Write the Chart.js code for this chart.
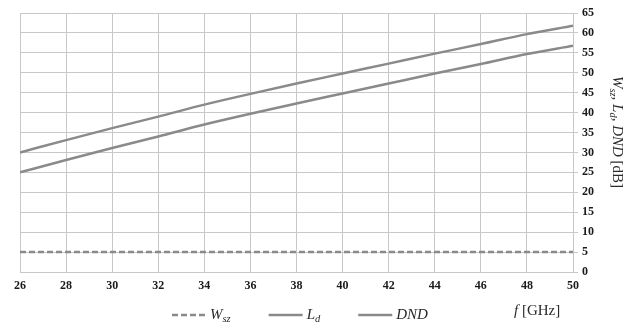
<!DOCTYPE html>
<html>
<head>
<meta charset="utf-8">
<script src="https://cdn.jsdelivr.net/npm/chart.js@4/dist/chart.umd.min.js"></script>
<style>
  html, body { margin: 0; padding: 0; background: #fff; }
  #wrap { width: 635px; height: 327px; }
</style>
</head>
<body>
<div id="wrap"><canvas id="lossChart"></canvas></div>
<script>
// frequency [GHz]
const freqs = [26, 28, 30, 32, 34, 36, 38, 40, 42, 44, 46, 48, 50];
// values [dB]
const wszValues = [5, 5, 5, 5, 5, 5, 5, 5, 5, 5, 5, 5, 5];
const ldValues = [25, 28.1, 31.1, 34.0, 37.0, 39.7, 42.3, 44.8, 47.3, 49.8, 52.2, 54.7, 56.8];
const dndValues = [30, 33.1, 36.1, 39.0, 42.0, 44.7, 47.3, 49.8, 52.3, 54.8, 57.2, 59.7, 61.8];
const yTicks = [0, 5, 10, 15, 20, 25, 30, 35, 40, 45, 50, 55, 60, 65];

const serif = "'Liberation Serif', 'DejaVu Serif', serif";
const lineGray = "#8a8a8a";

function toPoints(vals) {
  return freqs.map((f, i) => ({ x: f, y: vals[i] }));
}

// draws a run of text pieces: {t, italic, sub}
function drawRich(ctx, parts, x, y, size) {
  let cx = x;
  parts.forEach((p) => {
    const s = p.sub ? size * 0.7 : size;
    ctx.font = (p.italic ? "italic " : "") + s + "px " + serif;
    ctx.fillText(p.t, cx, p.sub ? y + size * 0.25 : y);
    cx += ctx.measureText(p.t).width;
  });
  return cx;
}

function richWidth(ctx, parts, size) {
  let w = 0;
  parts.forEach((p) => {
    const s = p.sub ? size * 0.7 : size;
    ctx.font = (p.italic ? "italic " : "") + s + "px " + serif;
    w += ctx.measureText(p.t).width;
  });
  return w;
}

const legendNames = [
  [{ t: "W", italic: true }, { t: "sz", italic: true, sub: true }],
  [{ t: "L", italic: true }, { t: "d", italic: true, sub: true }],
  [{ t: "DND", italic: true }],
];

const annotations = {
  id: "annotations",
  afterDraw(chart) {
    const ctx = chart.ctx;
    ctx.save();
    ctx.fillStyle = "#2a2a2a";
    ctx.textBaseline = "middle";

    // legend
    let lx = 172;
    const ly = 315;
    chart.data.datasets.forEach((ds, i) => {
      ctx.beginPath();
      ctx.strokeStyle = ds.borderColor;
      ctx.lineWidth = ds.borderWidth;
      ctx.setLineDash(ds.borderDash || []);
      ctx.moveTo(lx, ly);
      ctx.lineTo(lx + 34, ly);
      ctx.stroke();
      ctx.setLineDash([]);
      const end = drawRich(ctx, legendNames[i], lx + 38, ly, 15);
      lx = end + 38;
    });

    // x title
    drawRich(ctx, [{ t: "f", italic: true }, { t: " [GHz]" }], 514, 311, 15);

    // y title, rotated clockwise
    const yParts = [
      { t: "W", italic: true }, { t: "sz", italic: true, sub: true },
      { t: ", L", italic: true }, { t: "d", italic: true, sub: true },
      { t: ", DND", italic: true }, { t: " [dB]" },
    ];
    const w = richWidth(ctx, yParts, 15);
    ctx.translate(617, 132);
    ctx.rotate(Math.PI / 2);
    drawRich(ctx, yParts, -w / 2, 0, 15);
    ctx.restore();
  },
};

new Chart(document.getElementById("lossChart"), {
  type: "line",
  data: {
    datasets: [
      {
        label: "Wsz",
        data: toPoints(wszValues),
        borderColor: lineGray,
        borderWidth: 2.5,
        borderDash: [6, 3],
        pointRadius: 0,
        fill: false,
      },
      {
        label: "Ld",
        data: toPoints(ldValues),
        borderColor: lineGray,
        borderWidth: 2.5,
        pointRadius: 0,
        cubicInterpolationMode: "monotone",
        fill: false,
      },
      {
        label: "DND",
        data: toPoints(dndValues),
        borderColor: lineGray,
        borderWidth: 2.5,
        pointRadius: 0,
        cubicInterpolationMode: "monotone",
        fill: false,
      },
    ],
  },
  options: {
    responsive: true,
    maintainAspectRatio: false,
    animation: false,
    layout: { padding: { left: 20, top: 13, right: 0, bottom: 0 } },
    plugins: {
      legend: { display: false },
      tooltip: { enabled: false },
    },
    scales: {
      x: {
        type: "linear",
        min: freqs[0],
        max: freqs[freqs.length - 1],
        afterBuildTicks: (scale) => {
          scale.ticks = freqs.map((v) => ({ value: v }));
        },
        afterFit: (scale) => {
          scale.height = 55;
        },
        grid: { color: "#c8c8c8", lineWidth: 1, drawTicks: false },
        border: { color: "#c8c8c8" },
        ticks: {
          padding: 7,
          color: "#1a1a1a",
          font: { family: serif, size: 12, weight: "bold" },
        },
      },
      y: {
        position: "right",
        min: yTicks[0],
        max: yTicks[yTicks.length - 1],
        afterBuildTicks: (scale) => {
          scale.ticks = yTicks.map((v) => ({ value: v }));
        },
        afterFit: (scale) => {
          scale.width = 62;
        },
        grid: { color: "#c8c8c8", lineWidth: 1, tickLength: 5 },
        border: { color: "#c8c8c8" },
        ticks: {
          padding: 4,
          color: "#1a1a1a",
          font: { family: serif, size: 12, weight: "bold" },
        },
      },
    },
  },
  plugins: [annotations],
});
</script>
</body>
</html>
